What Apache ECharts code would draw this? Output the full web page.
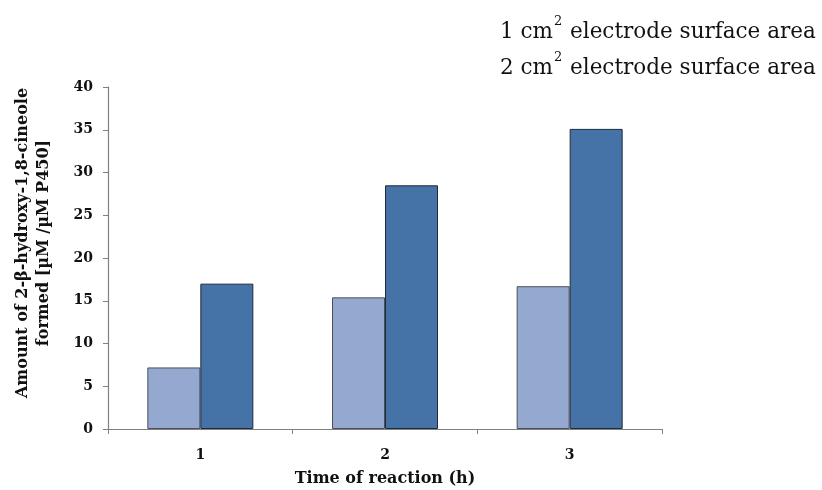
<!DOCTYPE html>
<html>
<head>
<meta charset="utf-8">
<script src="https://cdn.jsdelivr.net/npm/echarts@6/dist/echarts.min.js"></script>
<style>
  html, body { margin: 0; padding: 0; background: #fff; }
  #chart { width: 822px; height: 490px; }
</style>
</head>
<body>
<div id="chart"></div>
<script>
// Reaction time categories (h)
const categories = ['1', '2', '3'];
// 2-β-hydroxy-1,8-cineole formed [µM / µM P450]
const area1cm2 = [7.2, 15.4, 16.7];
const area2cm2 = [17.0, 28.5, 35.1];
const seriesNames = ['1 cm2 electrode surface area', '2 cm2 electrode surface area'];
const yTicks = [0, 5, 10, 15, 20, 25, 30, 35, 40];

const serif = '"DejaVu Serif", "Liberation Serif", serif';
const chart = echarts.init(document.getElementById('chart'), null, { renderer: 'canvas' });

chart.setOption({
  animation: false,
  backgroundColor: '#ffffff',
  grid: { left: 108, right: 160, top: 87, bottom: 61, outerBoundsMode: 'none', containLabel: false },
  legend: {
    orient: 'vertical',
    left: 489,
    top: 10,
    itemWidth: 0,
    itemHeight: 0,
    itemGap: 8,
    selectedMode: false,
    data: seriesNames,
    formatter: function (name) {
      // "1 cm2 ..." -> unit with a raised exponent
      const lead = name.slice(0, 4);
      const rest = name.slice(5);
      return '{n|' + lead + '}{s|2}{n|' + rest + '}';
    },
    textStyle: {
      rich: {
        n: { fontFamily: serif, fontSize: 21.5, color: '#111', lineHeight: 28, verticalAlign: 'bottom' },
        s: { fontFamily: serif, fontSize: 13, color: '#111', lineHeight: 28, verticalAlign: 'top', padding: [0, 1, 0, 1] }
      }
    }
  },
  xAxis: {
    type: 'category',
    data: categories,
    name: 'Time of reaction (h)',
    nameLocation: 'middle',
    nameGap: 42,
    nameTextStyle: { fontFamily: serif, fontWeight: 'bold', fontSize: 16, color: '#111' },
    axisLine: { lineStyle: { color: '#808080', width: 1.2 } },
    axisTick: { show: true, length: 5, alignWithLabel: false, lineStyle: { color: '#808080' } },
    axisLabel: { fontFamily: serif, fontWeight: 'bold', fontSize: 14, color: '#111', margin: 19 }
  },
  yAxis: {
    type: 'value',
    min: yTicks[0],
    max: yTicks[yTicks.length - 1],
    interval: yTicks[1] - yTicks[0],
    name: 'Amount of 2-β-hydroxy-1,8-cineole\nformed [µM /µM P450]',
    nameLocation: 'middle',
    nameGap: 54,
    nameRotate: 90,
    nameTextStyle: { fontFamily: serif, fontWeight: 'bold', fontSize: 16, color: '#111', lineHeight: 21, padding: [0, 0, 0, 30] },
    splitLine: { show: false },
    axisLine: { show: true, lineStyle: { color: '#808080', width: 1.2 } },
    axisTick: { show: true, length: 5, lineStyle: { color: '#808080' } },
    axisLabel: { fontFamily: serif, fontWeight: 'bold', fontSize: 14, color: '#111', margin: 15 }
  },
  series: [
    {
      name: seriesNames[0],
      type: 'bar',
      data: area1cm2,
      barWidth: 53,
      barGap: '0%',
      itemStyle: { color: '#95a9d0', borderColor: '#4a4f5a', borderWidth: 1 }
    },
    {
      name: seriesNames[1],
      type: 'bar',
      data: area2cm2,
      barWidth: 53,
      barGap: '0%',
      itemStyle: { color: '#4572a7', borderColor: '#1f2a3a', borderWidth: 1 }
    }
  ]
});
</script>
</body>
</html>
